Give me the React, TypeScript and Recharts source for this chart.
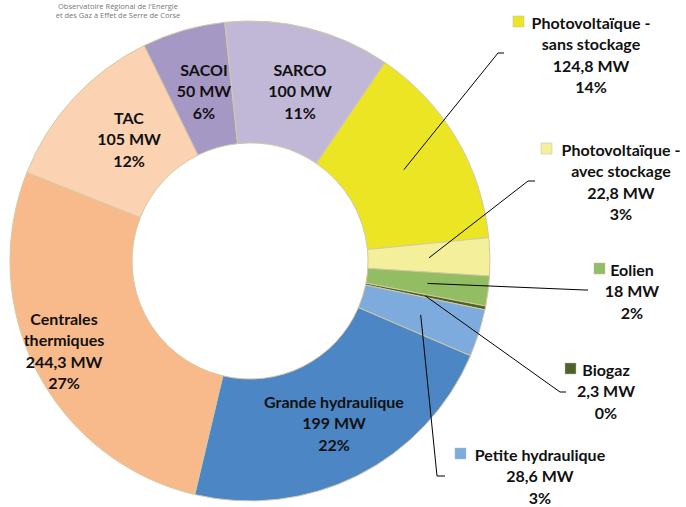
import { Cell, Pie, PieChart } from 'recharts';

const categories = [
  'Photovoltaïque -\nsans stockage',
  'Photovoltaïque -\navec stockage',
  'Eolien',
  'Biogaz',
  'Petite hydraulique',
  'Grande hydraulique',
  'Centrales\nthermiques',
  'TAC',
  'SACOI',
  'SARCO'
];
const capacityMw = [124.8, 22.8, 18, 2.3, 28.6, 199, 244.3, 105, 50, 100];
const colors = [
  '#ebe524',
  '#f3ef9b',
  '#92bd63',
  '#4f6228',
  '#7eabdd',
  '#4d86c5',
  '#f9ba8b',
  '#fbd3b3',
  '#a698c5',
  '#c1b8d8'
];

const data = categories.map((name, i) => ({ name, value: capacityMw[i] }));

// label placement: text centre x, first line y, optional legend key and leader line
type LabelLayout = {
  x: number;
  y: number;
  key?: number;
  elbow?: [number, number];
  end?: number;
};
const layout: LabelLayout[] = [
  { x: 591, y: 22, key: 513, elbow: [498, 53], end: 504 },
  { x: 621, y: 149, key: 541, elbow: [528, 181], end: 535 },
  { x: 632, y: 269, key: 594, elbow: [585, 290], end: 588 },
  { x: 606, y: 369, key: 565, elbow: [560, 392], end: 566 },
  { x: 540, y: 454, key: 455, elbow: [437, 476], end: 445 },
  { x: 334, y: 401 },
  { x: 64, y: 318 },
  { x: 129, y: 117 },
  { x: 204, y: 69 },
  { x: 300, y: 69 }
];

const RADIAN = Math.PI / 180;
const LINE_H = 21.6;

function formatMw(value: number): string {
  return String(value).replace('.', ',') + ' MW';
}

function renderLabel(props: any) {
  const { cx, cy, midAngle, innerRadius, outerRadius, index, value, percent } = props;
  const lay = layout[index];
  const lines = [...categories[index].split('\n'), formatMw(value), `${Math.round(percent * 100)}%`];
  const r = (innerRadius + outerRadius) / 2;
  const ax = cx + r * Math.cos(-midAngle * RADIAN);
  const ay = cy + r * Math.sin(-midAngle * RADIAN);
  return (
    <g>
      {lay.elbow && (
        <polyline
          points={`${ax},${ay} ${lay.elbow[0]},${lay.elbow[1]} ${lay.end},${lay.elbow[1]}`}
          fill="none"
          stroke="#000"
          strokeWidth={1}
        />
      )}
      {lay.key !== undefined && (
        <rect x={lay.key} y={lay.y - 6} width={11} height={11} fill={colors[index]} stroke="#bbb" strokeWidth={0.5} />
      )}
      <text
        textAnchor="middle"
        fontFamily="Lato, 'Open Sans', sans-serif"
        fontWeight="bold"
        fontSize={16}
        fill="#111"
      >
        {lines.map((line, i) => (
          <tspan key={i} x={lay.x} y={lay.y + i * LINE_H} dominantBaseline="central">
            {line}
          </tspan>
        ))}
      </text>
    </g>
  );
}

export default function App() {
  return (
    <div style={{ position: 'absolute', left: 0, top: 0, width: 686, height: 507, background: '#fff' }}>
      <PieChart width={686} height={507} margin={{ top: 0, right: 0, bottom: 0, left: 0 }}>
        <Pie
          data={data}
          dataKey="value"
          nameKey="name"
          cx={250}
          cy={261}
          innerRadius={118}
          outerRadius={240}
          startAngle={55.8}
          endAngle={-304.2}
          stroke="#d3caa3"
          strokeWidth={1}
          label={renderLabel}
          labelLine={false}
          isAnimationActive={false}
        >
          {data.map((d, i) => (
            <Cell key={d.name} fill={colors[i]} />
          ))}
        </Pie>
        <text textAnchor="middle" fontFamily="'Open Sans', sans-serif" fontSize={7.5} fill="#777">
          <tspan x={118} y={6} dominantBaseline="central">Observatoire Régional de l'Energie</tspan>
          <tspan x={118} y={15} dominantBaseline="central">et des Gaz à Effet de Serre de Corse</tspan>
        </text>
      </PieChart>
    </div>
  );
}
